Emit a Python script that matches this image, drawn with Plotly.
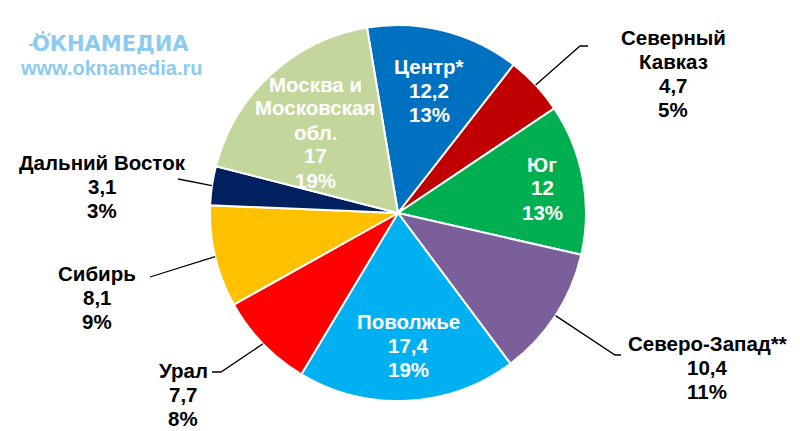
import math
import plotly.graph_objects as go

# ---- data ----
regions = ["Центр*", "Северный<br>Кавказ", "Юг", "Северо-Запад**", "Поволжье",
           "Урал", "Сибирь", "Дальний Восток", "Москва и<br>Московская<br>обл."]
values = [12.2, 4.7, 12, 10.4, 17.4, 7.7, 8.1, 3.1, 17]
percents = [13, 5, 13, 11, 19, 8, 9, 3, 19]

# ---- style ----
colors = ["#0070C0", "#C00000", "#00B050", "#7A5F9A", "#00B0F0",
          "#FF0000", "#FFC000", "#002060", "#C3D69B"]
inside = [True, False, True, False, True, False, False, False, True]
# label block: x centre and y of first line (px) -- layout only
label_pos = [(429, 67), (673, 37), (542, 164), (707, 343), (408, 321),
             (183, 370), (97, 273), (102, 162), (315, 84)]
leader_pts = [None, [(580, 46), (588, 46)], None, [(615, 355), (621, 355)], None,
              [(221, 372), (212, 372)], [(150, 277)], [(178, 179)], None]
LINE_GAP = 24

W, H = 800, 431
CX, CY, R = 398, 213, 188
ROT = -9.5
FONT = "Liberation Sans, Arial, sans-serif"
FS = 20.5


def px(x, y):
    return x / W, 1 - y / H


def fmt(v):
    return (f"{v:g}").replace(".", ",")


fig = go.Figure()
fig.add_trace(go.Pie(
    values=values,
    labels=[r.replace("<br>", " ") for r in regions],
    sort=False,
    direction="clockwise",
    rotation=ROT,
    marker=dict(colors=colors, line=dict(color="white", width=2)),
    textinfo="none",
    hoverinfo="label+value+percent",
    showlegend=False,
    domain=dict(x=[(CX - R) / W, (CX + R) / W], y=[1 - (CY + R) / H, 1 - (CY - R) / H]),
))

annotations = []
shapes = []
total = sum(values)
cum = 0.0
for i, v in enumerate(values):
    mid = ROT + (cum + v / 2) / total * 360
    cum += v
    x, y0 = label_pos[i]
    lines = regions[i].split("<br>") + [fmt(v), f"{percents[i]}%"]
    for k, ln in enumerate(lines):
        ax, ay = px(x, y0 + k * LINE_GAP)
        annotations.append(dict(
            x=ax, y=ay, xref="paper", yref="paper", showarrow=False,
            xanchor="center", yanchor="middle",
            text=f"<b>{ln}</b>",
            font=dict(family=FONT, size=FS, color="white" if inside[i] else "black"),
        ))
    if leader_pts[i]:
        ex = CX + R * math.sin(math.radians(mid))
        ey = CY - R * math.cos(math.radians(mid))
        pts = [(ex, ey)] + leader_pts[i]
        path = "M " + " L ".join(f"{px(a, b)[0]:.5f},{px(a, b)[1]:.5f}" for a, b in pts)
        shapes.append(dict(type="path", path=path, xref="paper", yref="paper",
                           line=dict(color="black", width=1.3)))

# logo
LOGO = "#8CCBF0"
annotations.append(dict(x=110 / W, y=1 - 44 / H, xref="paper", yref="paper", showarrow=False,
                        xanchor="center", yanchor="middle",
                        text="<b>ОКНАМЕДИА</b>",
                        font=dict(family="DejaVu Sans, sans-serif", size=21, color=LOGO)))
annotations.append(dict(x=111 / W, y=1 - 68 / H, xref="paper", yref="paper", showarrow=False,
                        xanchor="center", yanchor="middle",
                        text="<b>www.oknamedia.ru</b>",
                        font=dict(family=FONT, size=20, color=LOGO)))
# sun rays on the logo's "О"
for (x0, y0, x1, y1) in [(29, 45, 33, 45), (38, 36, 36, 33), (43, 34, 43, 31), (48, 36, 50, 33)]:
    shapes.append(dict(type="line", xref="paper", yref="paper",
                       x0=x0 / W, y0=1 - y0 / H, x1=x1 / W, y1=1 - y1 / H,
                       line=dict(color=LOGO, width=2)))

fig.update_layout(
    width=W, height=H,
    margin=dict(l=0, r=0, t=0, b=0),
    paper_bgcolor="white", plot_bgcolor="white",
    annotations=annotations, shapes=shapes,
)

fig.write_html("out.html", config={"displayModeBar": False},
               post_script="document.body.style.margin='0';")
